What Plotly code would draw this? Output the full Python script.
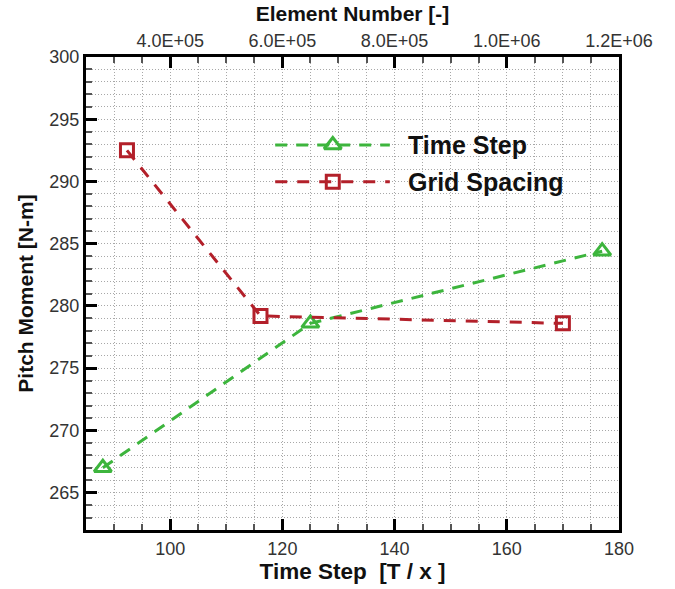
import plotly.graph_objects as go

# ---- data ----
time_step_x = [88, 125, 177]            # Time Step [T / x]
time_step_y = [267.0, 278.6, 284.4]     # Pitch Moment [N-m]
grid_elements = [3.23e5, 5.61e5, 1.10e6]  # Element Number [-]
grid_y = [292.5, 279.2, 278.6]          # Pitch Moment [N-m]

x_tick_vals = [100, 120, 140, 160, 180]
y_tick_vals = [265, 270, 275, 280, 285, 290, 295, 300]
top_tick_vals = [4e5, 6e5, 8e5, 1.0e6, 1.2e6]
top_tick_text = ["4.0E+05", "6.0E+05", "8.0E+05", "1.0E+06", "1.2E+06"]
legend_names = ["Time Step", "Grid Spacing"]

GREEN = "#3db53d"
RED = "#b3202a"
FONT = "Liberation Sans, Arial, sans-serif"
GRID = "#a8a8a8"
GRIDDASH = "1px,2px"

fig = go.Figure()

fig.add_trace(go.Scatter(
    x=time_step_x, y=time_step_y, mode="lines+markers", name=legend_names[0],
    line=dict(color=GREEN, width=3, dash="12px,9px"),
    marker=dict(symbol="triangle-up-open", size=15, color=GREEN, line=dict(width=3, color=GREEN)),
    xaxis="x", yaxis="y", showlegend=False,
))
fig.add_trace(go.Scatter(
    x=grid_elements, y=grid_y, mode="lines+markers", name=legend_names[1],
    line=dict(color=RED, width=3, dash="12px,10px"),
    marker=dict(symbol="square-open", size=13, color=RED, line=dict(width=3, color=RED)),
    xaxis="x2", yaxis="y", showlegend=False,
))

# custom legend on a hidden overlay axis (layout positions in 0..1)
leg_x0, leg_x1, leg_xm, leg_text_x = 0.355, 0.57, 0.463, 0.6
leg_rows = [0.814, 0.736]
styles = [
    (GREEN, "12px,9px", "triangle-up-open", 15),
    (RED, "12px,10px", "square-open", 13),
]
for (col, dash, sym, sz), ry, name in zip(styles, leg_rows, legend_names):
    fig.add_trace(go.Scatter(
        x=[leg_x0, leg_x1], y=[ry, ry], mode="lines",
        line=dict(color=col, width=3, dash=dash),
        xaxis="x3", yaxis="y3", showlegend=False, hoverinfo="skip",
    ))
    fig.add_trace(go.Scatter(
        x=[leg_xm], y=[ry], mode="markers",
        marker=dict(symbol=sym, size=sz, color=col, line=dict(width=3, color=col)),
        xaxis="x3", yaxis="y3", showlegend=False, hoverinfo="skip",
    ))
    fig.add_annotation(
        x=leg_text_x, y=ry, xref="x3", yref="y3", text="<b>%s</b>" % name,
        showarrow=False, xanchor="left", yanchor="middle",
        font=dict(family=FONT, size=25, color="#111"),
    )

tickfont = dict(family=FONT, size=18, color="#333")
titlefont = dict(family=FONT, size=21, color="#111")

fig.update_layout(
    width=675, height=589,
    margin=dict(l=86, r=56, t=55, b=50),
    paper_bgcolor="white", plot_bgcolor="white",
    showlegend=False,
    xaxis=dict(
        range=[85, 180], tickvals=x_tick_vals,
        ticks="inside", ticklen=11, tickwidth=3, tickcolor="black",
        showline=True, linewidth=3, linecolor="black", mirror=True,
        showgrid=True, griddash=GRIDDASH, gridcolor=GRID, gridwidth=1,
        minor=dict(dtick=5, tick0=0, ticks="inside", ticklen=6, tickwidth=1.5,
                   tickcolor="#555", showgrid=True, griddash=GRIDDASH, gridcolor=GRID),
        tickfont=tickfont, zeroline=False,
        title=dict(text="<b>Time Step  [T / x ]</b>",
                   font=dict(family=FONT, size=22.5, color="#111"), standoff=3),
    ),
    xaxis2=dict(
        overlaying="x", side="top", anchor="y",
        range=[2.5e5, 1.2e6], tickvals=top_tick_vals, ticktext=top_tick_text,
        ticks="inside", ticklen=11, tickwidth=3, tickcolor="black",
        showline=True, linewidth=3, linecolor="black",
        showgrid=False, zeroline=False,
        minor=dict(dtick=5e4, tick0=0, ticks="inside", ticklen=6, tickwidth=1.5,
                   tickcolor="#555", showgrid=False),
        tickfont=tickfont,
        title=dict(text="<b>Element Number [-]</b>", font=titlefont, standoff=4),
    ),
    yaxis=dict(
        range=[262, 300], tickvals=y_tick_vals,
        ticks="inside", ticklen=11, tickwidth=3, tickcolor="black",
        showline=True, linewidth=3, linecolor="black", mirror=True,
        showgrid=True, griddash=GRIDDASH, gridcolor=GRID, gridwidth=1,
        minor=dict(dtick=1, tick0=0, ticks="inside", ticklen=6, tickwidth=1.5,
                   tickcolor="#555", showgrid=True, griddash=GRIDDASH, gridcolor=GRID),
        tickfont=tickfont, zeroline=False,
        title=dict(text="<b>Pitch Moment [N-m]</b>", font=titlefont, standoff=11),
    ),
    xaxis3=dict(overlaying="x", anchor="y3", range=[0, 1], visible=False, fixedrange=True),
    yaxis3=dict(overlaying="y", anchor="x3", range=[0, 1], visible=False, fixedrange=True),
)

fig.write_html("out.html")
